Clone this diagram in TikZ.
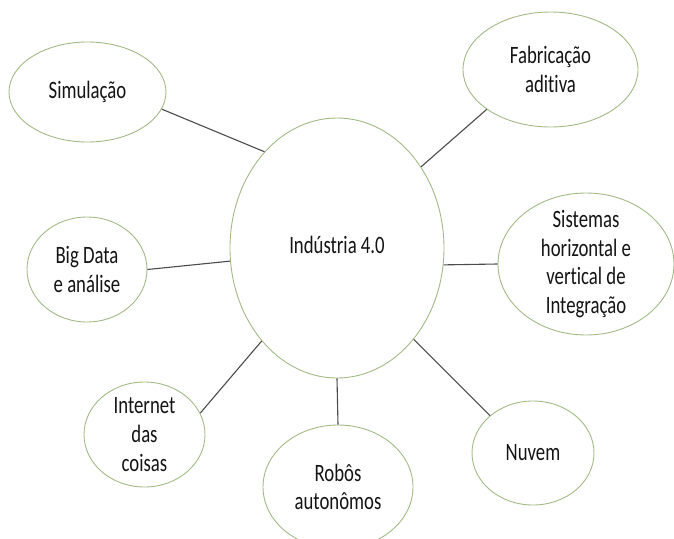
\documentclass[tikz,border=0pt]{standalone}
\usepackage{fontspec}
\setmainfont{Carlito}[FakeStretch=0.75, Ligatures=NoCommon]
\usetikzlibrary{shapes.geometric}

\definecolor{rimgreen}{RGB}{163,186,135}
\definecolor{linkgray}{RGB}{75,75,75}
\definecolor{inkblack}{RGB}{20,20,20}

\begin{document}
\begin{tikzpicture}[
        x=1pt, y=-1pt,
        bubble/.style={draw=rimgreen, line width=0.9pt, ellipse, inner sep=0pt, fill=white},
        bubbletext/.style={align=center, text=inkblack, inner sep=0pt, font=\fontsize{25}{28.8}\selectfont},
        link/.style={draw=linkgray, line width=1.1pt}
    ]
        \useasboundingbox (0,0) rectangle (674,538);

        % Centre
        \node[bubble, minimum width=214pt, minimum height=260pt] (ind) at (337,248) {};
        \node[bubbletext] (ind-txt) at (337,245) {Indústria 4.0};

        % Left side
        \node[bubble, minimum width=157pt, minimum height=100pt] (sim) at (87.5,92) {};
        \node[bubbletext] (sim-txt) at (sim) {Simulação};
        \node[bubble, minimum width=120pt, minimum height=105pt] (big) at (87,269.5) {};
        \node[bubbletext] (big-txt) at (big) {Big Data\\e análise};
        \node[bubble, minimum width=121pt, minimum height=105pt] (iot) at (144.5,434.5) {};
        \node[bubbletext] (iot-txt) at (iot) {Internet\\das\\coisas};

        % Bottom
        \node[bubble, minimum width=150pt, minimum height=124pt] (rob) at (338,487) {};
        \node[bubbletext] (rob-txt) at (rob) {Robôs\\autonômos};

        % Right side
        \node[bubble, minimum width=175pt, minimum height=115pt] (fab) at (550.5,69.5) {};
        \node[bubbletext] (fab-txt) at (fab) {Fabricação\\aditiva};
        \node[bubble, minimum width=176pt, minimum height=142pt] (sis) at (586,264) {};
        \node[bubbletext] (sis-txt) at (sis) {Sistemas\\horizontal e\\vertical de\\Integração};
        \node[bubble, minimum width=122pt, minimum height=104pt] (nuv) at (533,453) {};
        \node[bubbletext] (nuv-txt) at (nuv) {Nuvem};

        % Links
        \draw[link] (ind.127) -- (sim.-13);
        \draw[link] (ind.44) -- (fab.212);
        \draw[link] (ind.187) -- (big.0);
        \draw[link] (ind.-9) -- (sis.180);
        \draw[link] (ind.231) -- (iot.21);
        \draw[link] (ind.270) -- (rob.90);
        \draw[link] (ind.-50) -- (nuv.139);

    \end{tikzpicture}
\end{document}
